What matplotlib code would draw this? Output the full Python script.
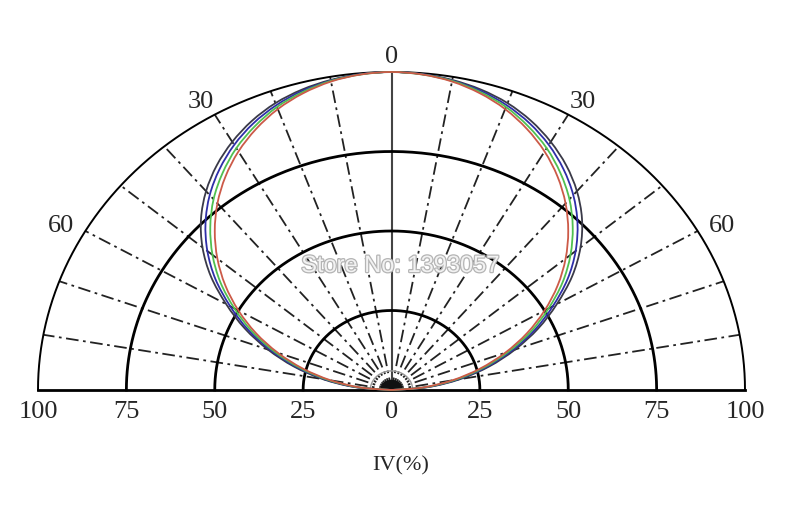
import numpy as np
import matplotlib
matplotlib.use('Agg')
import matplotlib.pyplot as plt
import matplotlib.patheffects as pe
from matplotlib.path import Path
from matplotlib.patches import PathPatch

# half-angle (deg) from the 0 axis, curves are symmetric
angles = [0, 5, 10, 15, 20, 25, 30, 35, 40, 45, 50, 55, 60, 65, 70, 75, 80, 85, 90]
iv_black = [100, 99.7, 99.0, 97.8, 96.0, 93.4, 90.1, 86.2, 81.6, 76.2, 69.8, 62.4, 54.0, 45.8, 37.2, 28.6, 19.7, 10.3, 0]
iv_blue = [100, 99.7, 98.8, 97.4, 95.3, 92.5, 89.0, 84.8, 80.0, 74.4, 68.0, 60.8, 52.7, 44.7, 36.2, 27.7, 18.9, 9.8, 0]
iv_green = [100, 99.6, 98.7, 97.0, 94.7, 91.5, 87.8, 83.3, 78.3, 72.5, 66.1, 59.1, 51.3, 43.5, 35.2, 26.8, 18.2, 9.2, 0]
iv_red = [100, 99.6, 98.5, 96.6, 94.0, 90.6, 86.6, 81.9, 76.6, 70.7, 64.3, 57.4, 50.0, 42.3, 34.2, 25.9, 17.4, 8.7, 0]

rings = [25, 50, 75, 100]
spokes = [-80, -70, -60, -50, -40, -30, -20, -10, 10, 20, 30, 40, 50, 60, 70, 80]
x_ticks = [-100, -75, -50, -25, 0, 25, 50, 75, 100]
angle_labels = [-60, -30, 0, 30, 60]

plt.rcParams['font.family'] = ['Liberation Serif', 'DejaVu Serif']

fig = plt.figure(figsize=(8, 5.3), dpi=100)
ax = fig.add_axes([38 / 800, 140 / 530, 707 / 800, 318 / 530])
ax.set_xlim(-100, 100)
ax.set_ylim(0, 100)
ax.axis('off')


def to_xy(r, deg):
    t = np.radians(deg)
    return r * np.sin(t), r * np.cos(t)


def smooth_path(x, y):
    # catmull-rom through the read points, drawn as cubic bezier
    p = np.column_stack([x, y])
    p = np.vstack([p[0], p, p[-1]])
    verts = [p[1]]
    codes = [Path.MOVETO]
    for i in range(1, len(p) - 2):
        c1 = p[i] + (p[i + 1] - p[i - 1]) / 6
        c2 = p[i + 1] - (p[i + 2] - p[i]) / 6
        verts += [c1, c2, p[i + 1]]
        codes += [Path.CURVE4] * 3
    return Path(verts, codes)


# grid rings
for r in rings:
    t = np.linspace(-90, 90, 361)
    x, y = to_xy(r, t)
    ax.plot(x, y, color='black', lw=1.4 if r == 100 else 2.0, clip_on=False, zorder=2)

# dash-dot spokes
for a in spokes:
    x, y = to_xy(np.array([0, 100]), a)
    ax.plot(x, y, color='#222222', lw=1.3, ls=(0, (7, 2.5, 1.5, 2.5)), zorder=1)
ax.plot([0, 0], [0, 100], color='#444444', lw=1.5, zorder=1)

# baseline
ax.plot([-100, 100], [0, 0], color='black', lw=2.0, clip_on=False, zorder=3)

# small hub at the origin
t = np.linspace(-90, 90, 91)
hx, hy = to_xy(3.0, t)
ax.fill(hx, hy, color='#111111', zorder=4)
hx, hy = to_xy(6.0, t)
ax.plot(hx, hy, color='#999999', lw=1.0, zorder=4)

# radiation curves
full_ang = np.array([-a for a in angles[::-1]] + angles[1:])
for vals, col in [(iv_black, '#3a3a48'), (iv_blue, '#2e2ea8'),
                  (iv_green, '#50c050'), (iv_red, '#cc5a48')]:
    v = np.array(vals[::-1] + vals[1:], dtype=float)
    x, y = to_xy(v, full_ang)
    ax.add_patch(PathPatch(smooth_path(x, y), fill=False, edgecolor=col,
                           lw=1.3, zorder=5, clip_on=False))

# labels
for xt in x_ticks:
    ax.text(xt, -6.8, str(abs(xt)), ha='center', va='center', fontsize=19, color='#262626')
for a in angle_labels:
    lx, ly = to_xy(108, a)
    ax.text(lx, ly * 0.985 - 1.7, str(abs(a)), ha='center', va='center', fontsize=19, color='#262626')
ax.text(2.5, -23.8, 'IV(%)', ha='center', va='center', fontsize=16, color='#262626')

ax.text(2.5, 39.0, 'Store No: 1393057', ha='center', va='center', fontsize=17,
        family='Liberation Sans', color='#f2f2f2', zorder=10,
        path_effects=[pe.withStroke(linewidth=1.8, foreground='#b4b4b4')])

plt.savefig('out.png', dpi=100)
plt.close()
